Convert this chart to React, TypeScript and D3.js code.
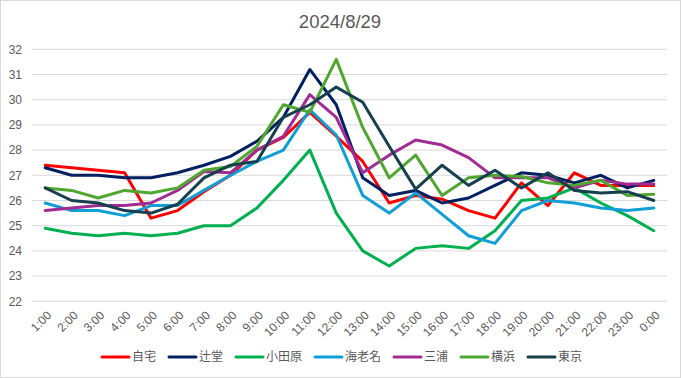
import React from "react";
import * as d3 from "d3";

const hours = ["1:00","2:00","3:00","4:00","5:00","6:00","7:00","8:00","9:00","10:00","11:00","12:00","13:00","14:00","15:00","16:00","17:00","18:00","19:00","20:00","21:00","22:00","23:00","0:00"];

const jitaku = [27.4, 27.3, 27.2, 27.1, 25.3, 25.6, 26.35, 27.0, 28.0, 28.5, 29.5, 28.55, 27.55, 25.9, 26.2, 26.05, 25.6, 25.3, 26.7, 25.8, 27.1, 26.6, 26.6, 26.6];
const tsujido = [27.3, 27.0, 27.0, 26.9, 26.9, 27.1, 27.4, 27.75, 28.35, 29.3, 31.2, 29.8, 26.9, 26.2, 26.4, 25.9, 26.1, 26.6, 27.1, 27.0, 26.7, 27.0, 26.5, 26.8];
const odawara = [24.9, 24.7, 24.6, 24.7, 24.6, 24.7, 25.0, 25.0, 25.7, 26.8, 28.0, 25.5, 24.0, 23.4, 24.1, 24.2, 24.1, 24.8, 26.0, 26.1, 26.5, 25.9, 25.4, 24.8];
const ebina = [25.9, 25.6, 25.6, 25.4, 25.8, 25.8, 26.4, 27.0, 27.55, 28.0, 29.6, 28.6, 26.2, 25.5, 26.3, 25.45, 24.6, 24.3, 25.6, 26.0, 25.9, 25.7, 25.6, 25.7];
const miura = [25.6, 25.7, 25.8, 25.8, 25.9, 26.4, 27.15, 27.1, 28.0, 28.55, 30.2, 29.3, 27.1, 27.8, 28.4, 28.2, 27.7, 26.9, 26.9, 26.9, 26.5, 26.8, 26.65, 26.65];
const yokohama = [26.5, 26.4, 26.1, 26.4, 26.3, 26.5, 27.2, 27.35, 28.15, 29.8, 29.5, 31.6, 28.9, 26.9, 27.8, 26.2, 26.9, 27.0, 26.95, 26.7, 26.6, 26.8, 26.2, 26.25];
const tokyo = [26.5, 26.0, 25.9, 25.6, 25.5, 25.85, 26.9, 27.4, 27.55, 29.3, 29.8, 30.5, 29.9, 28.15, 26.45, 27.4, 26.6, 27.2, 26.5, 27.1, 26.4, 26.3, 26.35, 26.0];

const seriesNames = ["自宅", "辻堂", "小田原", "海老名", "三浦", "横浜", "東京"];
const seriesValues = [jitaku, tsujido, odawara, ebina, miura, yokohama, tokyo];
const seriesColors = ["#FF0000", "#002060", "#00B050", "#0F9ED5", "#A02B93", "#4EA72E", "#17404F"];
const yTicks = [22, 23, 24, 25, 26, 27, 28, 29, 30, 31, 32];
const title = "2024/8/29";

const W = 681;
const H = 378;
const FONT = "'Liberation Sans', Arial, 'Noto Sans CJK JP', sans-serif";
const TEXT = "#595959";

export default function App() {
  const x = d3.scaleBand<string>().domain(hours).range([32, 667]);
  const y = d3.scaleLinear().domain([22, 32]).range([301.3, 49.3]);
  const cx = (h: string) => (x(h) as number) + x.bandwidth() / 2;
  const line = d3
    .line<number>()
    .x((_, i) => cx(hours[i]))
    .y((d) => y(d));

  // legend layout
  const charW = 12;
  const sampleW = 27;
  const itemWidths = seriesNames.map((n) => sampleW + 3 + n.length * charW);
  const gap = 13;
  const total = d3.sum(itemWidths) + gap * (seriesNames.length - 1);
  let lx = 342 - total / 2;
  const legendItems = seriesNames.map((n, i) => {
    const item = { name: n, x: lx, color: seriesColors[i] };
    lx += itemWidths[i] + gap;
    return item;
  });
  const ly = 357;

  return (
    <svg
      width={W}
      height={H}
      style={{ position: "absolute", left: 0, top: 0, background: "#fff" }}
      fontFamily={FONT}
    >
      <rect x={0.5} y={0.5} width={W - 1} height={H - 1} fill="#fff" stroke="#D9D9D9" />
      <text x={340} y={28} textAnchor="middle" fontSize={18.5} fill={TEXT}>
        {title}
      </text>
      {yTicks.map((t) => (
        <g key={t}>
          <line x1={32} x2={667} y1={y(t)} y2={y(t)} stroke="#D9D9D9" strokeWidth={1} />
          <text x={22} y={y(t)} dy="0.35em" textAnchor="end" fontSize={12} fill={TEXT}>
            {t}
          </text>
        </g>
      ))}
      {hours.map((h) => (
        <text
          key={h}
          transform={`translate(${cx(h) + 4},${313}) rotate(-45)`}
          textAnchor="end"
          dy="0.35em"
          fontSize={12}
          fill={TEXT}
        >
          {h}
        </text>
      ))}
      {seriesValues.map((vals, i) => (
        <path
          key={seriesNames[i]}
          d={line(vals) || ""}
          fill="none"
          stroke={seriesColors[i]}
          strokeWidth={3}
          strokeLinejoin="round"
          strokeLinecap="round"
        />
      ))}
      {legendItems.map((it) => (
        <g key={it.name}>
          <line
            x1={it.x}
            x2={it.x + sampleW}
            y1={ly}
            y2={ly}
            stroke={it.color}
            strokeWidth={3}
            strokeLinecap="round"
          />
          <text x={it.x + sampleW + 3} y={ly} dy="0.35em" fontSize={12} fill={TEXT}>
            {it.name}
          </text>
        </g>
      ))}
    </svg>
  );
}
